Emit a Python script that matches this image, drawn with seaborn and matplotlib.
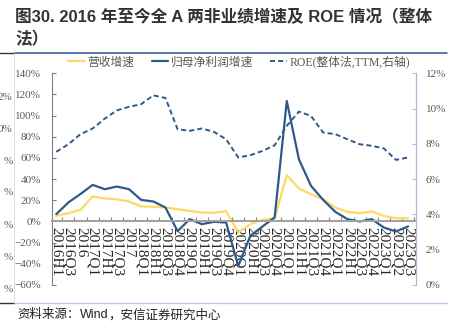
import numpy as np
import pandas as pd
import matplotlib
matplotlib.use("Agg")
import matplotlib.pyplot as plt
from matplotlib.lines import Line2D
import seaborn as sns

# Reporting periods
periods = ["2016H1", "2016Q3", "2016", "2017Q1", "2017H1", "2017Q3", "2017",
           "2018Q1", "2018H1", "2018Q3", "2018Q4", "2019Q1", "2019H1", "2019Q3",
           "2019Q4", "2020Q1", "2020H1", "2020Q3", "2020Q4", "2021Q1", "2021H1",
           "2021Q3", "2021Q4", "2022Q1", "2022H1", "2022Q3", "2022Q4", "2023Q1",
           "2023Q2", "2023Q3"]

# Revenue growth (%), left axis
revenue_growth = [5.3, 7.9, 11.0, 23.6, 21.7, 21.0, 18.9, 14.2, 13.8, 13.2,
                  11.6, 10.0, 8.5, 8.2, 9.7, -10.4, -2.5, 1.6, 3.1, 43.7,
                  31.1, 25.8, 21.0, 13.2, 9.1, 7.9, 9.4, 5.3, 3.1, 3.1]

# Net profit attributable to parent growth (%), left axis
profit_growth = [6.9, 18.0, 26.0, 34.6, 30.5, 33.0, 30.5, 20.4, 18.9, 13.2,
                 -9.1, 2.2, -2.5, -0.3, -1.0, -42.0, -13.5, -4.7, 3.8, 113.8,
                 58.8, 33.6, 20.4, 9.1, 2.2, 0.0, 2.2, -5.7, -9.4, -4.7]

# ROE (overall method, TTM, %), right axis
roe_ttm = [7.55, 7.98, 8.55, 8.87, 9.43, 9.90, 10.10, 10.25, 10.75, 10.60,
           8.83, 8.74, 8.87, 8.68, 8.26, 7.23, 7.36, 7.60, 7.92, 9.02,
           9.83, 9.58, 8.64, 8.55, 8.26, 7.98, 7.89, 7.74, 7.09, 7.23]

left_ticks = [-60, -40, -20, 0, 20, 40, 60, 80, 100, 120, 140]
right_ticks = [0, 2, 4, 6, 8, 10, 12]

legend_labels = ["营收增速", "归母净利润增速", "ROE(整体法,TTM,右轴)"]
title_line1 = "图30. 2016 年至今全 A 两非业绩增速及 ROE 情况（整体"
title_line2 = "法）"
source_parts = ["资料来源：", "Wind", "，安信证券研究中心"]

BLUE = "#2E5A8A"
YELLOW = "#FFD966"
GRAY_TXT = "#595959"
DASH = [2.6, 1.6]

sns.set_theme(style="white")
plt.rcParams["font.family"] = ["Liberation Serif", "Noto Sans CJK SC", "DejaVu Sans"]
plt.rcParams["axes.unicode_minus"] = True

df = pd.DataFrame({
    "period": periods,
    "revenue": revenue_growth,
    "profit": profit_growth,
    "roe": roe_ttm,
})

W, H = 459, 334
fig = plt.figure(figsize=(W / 100, H / 100), dpi=100)
fig.patch.set_facecolor("white")

ax = fig.add_axes([52 / W, 1 - 285 / H, (416 - 52) / W, (285 - 73.3) / H])
ax.set_facecolor("none")

sns.lineplot(data=df, x="period", y="revenue", ax=ax, color=YELLOW,
             linewidth=1.6, sort=False)
sns.lineplot(data=df, x="period", y="profit", ax=ax, color=BLUE,
             linewidth=1.6, sort=False)

ax2 = ax.twinx()
sns.lineplot(data=df, x="period", y="roe", ax=ax2, color=BLUE,
             linewidth=1.4, sort=False)
roe_line = ax2.lines[0]
roe_line.set_dashes(DASH)

n = len(periods)
ax.set_xlim(-0.35, n - 1 + 0.65)
ax.set_ylim(-60, 140)
ax2.set_ylim(0, 12)

# Left axis
ax.set_yticks(left_ticks)
ax.set_yticklabels([f"{v}%".replace("-", "\u2212") for v in left_ticks],
                   fontsize=8, color=GRAY_TXT)
ax.tick_params(axis="y", direction="in", length=3, width=0.8, color="#808080", pad=8,
               left=True)

# Category axis sitting on the zero line
ax.set_xticks(range(n))
ax.set_xticklabels(periods, fontsize=8, color=GRAY_TXT)
ax.tick_params(axis="x", which="major", length=0, pad=4, labelrotation=-90)
for lbl in ax.get_xticklabels():
    lbl.set_rotation(-90)
    lbl.set_va("top")
    lbl.set_ha("center")
ax.set_xticks([i + 0.5 for i in range(-1, n) if -0.35 < i + 0.5 < n - 0.35],
              minor=True)
ax.tick_params(axis="x", which="minor", direction="in", length=3.2, width=0.8,
               color="#808080", bottom=True)
ax.spines["bottom"].set_position(("data", 0))
ax.spines["bottom"].set_color("#A0A0A0")
ax.spines["bottom"].set_linewidth(1.4)
ax.spines["left"].set_color("#808080")
ax.spines["left"].set_linewidth(0.8)
ax.spines["top"].set_visible(False)
ax.spines["right"].set_visible(False)
ax.set_xlabel("")
ax.set_ylabel("")

# Right axis
ax2.set_yticks(right_ticks)
ax2.set_yticklabels([f"{v}%" for v in right_ticks], fontsize=8, color=GRAY_TXT)
ax2.tick_params(axis="y", direction="in", length=3, width=0.8, color="#A9BCD8",
                pad=7, right=True)
ax2.tick_params(axis="x", bottom=False, labelbottom=False)
for side in ["top", "left", "bottom"]:
    ax2.spines[side].set_visible(False)
ax2.spines["right"].set_color("#A9BCD8")
ax2.spines["right"].set_linewidth(0.9)
ax2.set_ylabel("")
ax2.set_xlabel("")

# Legend
handles = [ax.lines[0], ax.lines[1], roe_line]
leg_handles = [Line2D([], [], color=h.get_color(), linewidth=h.get_linewidth())
               for h in handles]
leg_handles[2].set_dashes(DASH)
leg = fig.legend(leg_handles, legend_labels, loc="center left",
                 bbox_to_anchor=(68 / W, 1 - 62 / H), ncol=3, frameon=False,
                 fontsize=8.5, handlelength=1.4, handletextpad=0.2,
                 columnspacing=1.5, borderpad=0, borderaxespad=0)
for t in leg.get_texts():
    t.set_color(GRAY_TXT)

# Title
title_kw = dict(fontsize=12, fontweight="bold", color="#333333",
                family=["Liberation Sans", "Noto Sans CJK SC"], va="center", ha="left")
fig.text(15 / W, 1 - 17 / H, title_line1, **title_kw)
fig.text(15 / W, 1 - 39 / H, title_line2, **title_kw)

# Frame rules of the figure block
fig.add_artist(Line2D([15 / W, 447 / W], [1 - 52.5 / H] * 2, color="#2F5597",
                      linewidth=1.1, transform=fig.transFigure))
fig.add_artist(Line2D([0, 14 / W], [1 - 52.5 / H] * 2, color="#333333",
                      linewidth=1.0, transform=fig.transFigure))
fig.add_artist(Line2D([14 / W, 447 / W], [1 - 303 / H] * 2, color="#B4C7E7",
                      linewidth=0.9, transform=fig.transFigure))
fig.add_artist(Line2D([0, 14 / W], [1 - 303 / H] * 2, color="#333333",
                      linewidth=1.0, transform=fig.transFigure))
fig.add_artist(Line2D([14 / W, 14 / W], [1 - 53 / H, 1 - 303 / H], color="#D9D9D9",
                      linewidth=0.6, transform=fig.transFigure))

# Axis labels of the neighbouring panel at the left edge
for y_px, s in zip([97, 129, 161, 193, 225, 257, 289],
                   ["2%", "0%", "%", "%", "%", "%", "%"]):
    fig.text(12.5 / W, 1 - y_px / H, s, fontsize=8, color=GRAY_TXT,
             ha="right", va="center", family="Liberation Serif")

# Source note: Chinese parts slanted, "Wind" upright
renderer = fig.canvas.get_renderer()
x_px = 17.0
for part in source_parts:
    slanted = part != "Wind"
    t = fig.text(x_px / W, 1 - 315 / H, part, fontsize=9, color="#222222",
                 style="italic" if slanted else "normal", ha="left", va="center",
                 family=["Liberation Sans", "Noto Sans CJK SC"])
    x_px += t.get_window_extent(renderer=renderer).width

fig.savefig("out.png", dpi=100, facecolor="white")
